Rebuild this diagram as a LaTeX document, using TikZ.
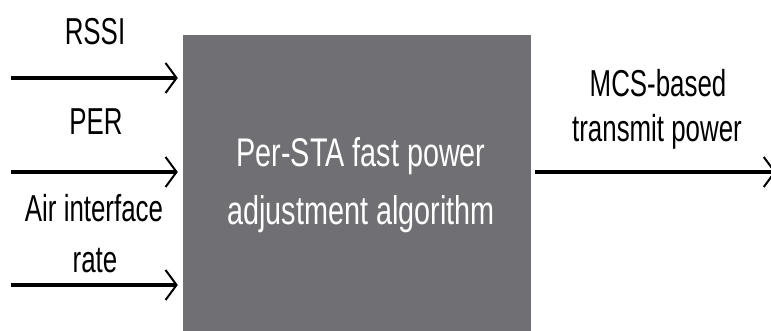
\documentclass[tikz,border=0pt]{standalone}
\usepackage{fontspec}
\setmainfont{Liberation Sans}[FakeStretch=0.72]
\newfontfamily\sidefont{Liberation Sans}[FakeStretch=0.69]
\usetikzlibrary{arrows.meta,calc,positioning}
\definecolor{boxgray}{RGB}{112,111,116}
\tikzset{
  lbl/.style={font=\sidefont\fontsize{37.5}{44}\selectfont, anchor=base, inner sep=0pt},
  boxlbl/.style={font=\fontsize{40}{48}\selectfont, anchor=base, inner sep=0pt, text=white},
  flow/.style={line width=4pt, arrows={-Straight Barb[length=11pt,width=30pt,line width=2pt]}}
}
\begin{document}
\begin{tikzpicture}[x=1pt,y=1pt]
\useasboundingbox (0,0) rectangle (771,331);
% processing block
\node (algo) at (357,148) [fill=boxgray, minimum width=348pt, minimum height=296pt, inner sep=0pt] {};
\node (algoA) at (361,164) [boxlbl] {Per-STA fast power};
\node (algoB) at (361,106) [boxlbl] {adjustment algorithm};
% inputs
\node (rssi) at (95,286) [lbl] {RSSI};
\node (per) at (96,196) [lbl] {PER};
\node (rateA) at (94,109) [lbl] {Air interface};
\node (rateB) at (95,58) [lbl] {rate};
% output
\node (mcsA) at (658,234) [lbl] {MCS-based};
\node (mcsB) at (657,189) [lbl] {transmit power};
\coordinate (rssiin) at (11,253);
\coordinate (perin) at (11,159);
\coordinate (ratein) at (11,46);
\coordinate (mcsout) at (776,159);
\draw[flow, shorten >=5pt] (rssiin) -- (rssiin -| algo.west);
\draw[flow, shorten >=5pt] (perin) -- (perin -| algo.west);
\draw[flow, shorten >=5pt] (ratein) -- (ratein -| algo.west);
\draw[flow, shorten <=4pt] (mcsout -| algo.east) -- (mcsout);
\end{tikzpicture}
\end{document}
